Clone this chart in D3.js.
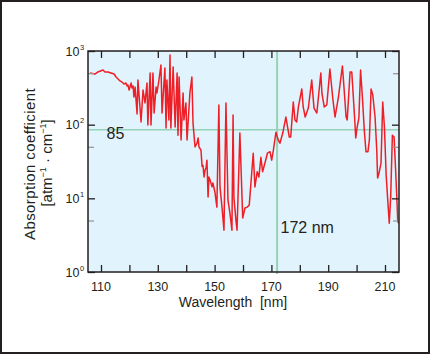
<!DOCTYPE html>
<html><head><meta charset="utf-8">
<script src="https://cdn.jsdelivr.net/npm/d3@7"></script>
<style>
body{margin:0;background:#fff;}
svg{display:block;font-family:"Liberation Sans",Arial,Helvetica,sans-serif;}
</style></head>
<body>
<svg id="c" width="431" height="355"></svg>
<script>
const wavelength = [106.1,107.9,108.9,110.7,111.4,112.5,113.5,114.6,115.3,116.0,116.7,117.4,118.1,118.8,119.2,119.5,119.9,120.6,120.9,121.3,121.6,122.0,122.7,123.0,124.1,124.8,125.5,126.2,126.5,127.3,127.6,128.3,128.7,129.4,129.7,130.4,131.1,131.5,132.5,132.9,133.2,133.9,134.3,134.6,135.4,136.1,136.8,137.1,137.5,138.2,138.9,139.2,139.9,140.3,141.3,142.0,142.4,143.1,143.8,144.2,144.5,145.2,145.6,145.9,146.3,146.6,147.0,147.3,147.7,148.0,148.4,149.1,149.4,150.1,150.8,151.5,151.9,152.6,153.3,154.0,154.7,155.4,156.1,156.5,156.8,157.5,157.9,158.9,159.9,160.7,161.5,162.2,163.6,164.2,165.0,165.6,166.3,166.9,167.7,168.6,169.5,170.1,170.7,171.6,172.4,173.0,174.0,175.1,176.3,176.8,177.7,178.3,178.9,179.5,180.7,181.2,181.9,183.0,184.2,185.0,186.0,187.4,187.8,188.6,189.5,190.6,191.6,192.4,193.6,195.0,195.6,196.3,196.7,197.7,198.3,199.2,199.7,200.2,200.8,201.4,202.1,202.7,203.3,204.0,204.5,205.1,205.7,206.5,207.1,207.4,208.0,208.6,209.2,209.8,210.4,210.9,211.5,212.0,212.6,213.2,213.9,214.5,214.9];
const absorption = [503,487,519,552,519,519,503,487,444,417,392,379,356,368,335,345,295,368,315,335,237,324,140,404,109,295,197,368,99,503,99,503,144,324,269,404,645,144,588,90,404,116,883,90,606,93,503,72,444,62,269,116,197,62,269,444,105,50,56,66,50,45,27,28,19.5,24,26,33,10.4,19.5,17.7,14.3,16.2,12.2,7.6,185,14.3,7.6,3.7,197,9.5,6.3,3.7,135,10.4,5.1,3.7,77,5.4,7.4,7.6,8.1,41,14.3,23,19.5,36,23,30,41,43,33,45,79,62,56,77,127,68,68,203,116,109,174,305,174,127,168,404,168,144,503,265,174,185,570,230,127,237,626,305,127,116,519,519,144,66,93,123,552,216,85,43,43,62,305,253,127,45,18.9,23,30,203,93,21,10.4,4.6,10.4,72,68,17.7,4.8,4.6];
const xTicks = [110,120,130,140,150,160,170,180,190,200,210];
const xTickLabels = [110,130,150,170,190,210];
const yMajor = [1,10,100,1000];
const yExp = ["0","1","2","3"];
const yMinor = [5,50,500];
const refLevel = 85;
const refWavelength = 172;

const svg = d3.select("#c");
const L=88,T=51,R=399,B=272;
const x = d3.scaleLinear().domain([105.42,214.93]).range([L,R]);
const y = d3.scaleLog().domain([1,1000]).range([B,T]);

// outer frame
svg.append("rect").attr("x",1).attr("y",1).attr("width",428).attr("height",352)
  .attr("fill","#fff").attr("stroke","#231f20").attr("stroke-width",2);

// plot background
svg.append("rect").attr("x",L).attr("y",T).attr("width",R-L).attr("height",B-T).attr("fill","#e1f3fc");

svg.append("clipPath").attr("id","pc").append("rect").attr("x",L).attr("y",T).attr("width",R-L).attr("height",B-T);

// reference lines
svg.append("line").attr("x1",L).attr("x2",R).attr("y1",y(refLevel)).attr("y2",y(refLevel))
  .attr("stroke","#95d3b6").attr("stroke-width",1.5);
svg.append("line").attr("x1",x(refWavelength)).attr("x2",x(refWavelength)).attr("y1",T).attr("y2",B+2)
  .attr("stroke","#95d3b6").attr("stroke-width",2);

// curve
const data = wavelength.map((w,i)=>[w,absorption[i]]);
svg.append("path").datum(data).attr("clip-path","url(#pc)")
  .attr("fill","none").attr("stroke","#ee1f27").attr("stroke-width",1.5).attr("stroke-linejoin","round")
  .attr("d",d3.line().x(d=>x(d[0])).y(d=>y(d[1])));

// axes (ticks inward)
const tk = 7;
function style(col){return g=>{g.select(".domain").remove(); g.selectAll("line").attr("stroke",col).attr("stroke-width",1.3);};}
svg.append("g").attr("transform",`translate(0,${B})`)
  .call(d3.axisBottom(x).tickValues(xTicks).tickSizeInner(-tk).tickSizeOuter(0).tickFormat("")).call(style("#231f20"));
svg.append("g").attr("transform",`translate(0,${T})`)
  .call(d3.axisTop(x).tickValues(xTicks).tickSizeInner(-tk).tickSizeOuter(0).tickFormat("")).call(style("#231f20"));
svg.append("g").attr("transform",`translate(${L},0)`)
  .call(d3.axisLeft(y).tickValues(yMajor).tickSizeInner(-tk).tickSizeOuter(0).tickFormat("")).call(style("#231f20"));
svg.append("g").attr("transform",`translate(${R},0)`)
  .call(d3.axisRight(y).tickValues(yMajor).tickSizeInner(-tk).tickSizeOuter(0).tickFormat("")).call(style("#231f20"));
svg.append("g").attr("transform",`translate(${L},0)`)
  .call(d3.axisLeft(y).tickValues(yMinor).tickSizeInner(-6).tickSizeOuter(0).tickFormat("")).call(style("#9a9a9a"));
svg.append("g").attr("transform",`translate(${R},0)`)
  .call(d3.axisRight(y).tickValues(yMinor).tickSizeInner(-6).tickSizeOuter(0).tickFormat("")).call(style("#9a9a9a"));

// frame
svg.append("rect").attr("x",L).attr("y",T).attr("width",R-L).attr("height",B-T)
  .attr("fill","none").attr("stroke","#231f20").attr("stroke-width",1.5);

// x tick labels
svg.append("g").selectAll("text").data(xTickLabels).join("text")
  .attr("x",d=>x(d)).attr("y",291).attr("text-anchor","middle")
  .attr("font-size","12.5px").attr("fill","#231f20").text(d=>d);

// y tick labels
const yl = svg.append("g").selectAll("g").data(yMajor).join("g");
yl.append("text").attr("x",79.5).attr("y",d=>y(d)+4.5).attr("text-anchor","end")
  .attr("font-size","12.5px").attr("fill","#231f20").text("10");
yl.append("text").attr("x",80).attr("y",d=>y(d)-1.5).attr("text-anchor","start")
  .attr("font-size","7.5px").attr("fill","#231f20").text((d,i)=>yExp[i]);

// axis titles
svg.append("text").attr("x",233).attr("y",307).attr("text-anchor","middle")
  .attr("font-size","14px").attr("fill","#231f20").attr("xml:space","preserve").text("Wavelength  [nm]");
svg.append("text").attr("transform","translate(35,164) rotate(-90)").attr("text-anchor","middle")
  .attr("font-size","15px").attr("letter-spacing","0.4px").attr("fill","#231f20")
  .text("Absorption coefficient");
const yt2 = svg.append("text").attr("transform","translate(52,163) rotate(-90)").attr("text-anchor","middle")
  .attr("font-size","15px").attr("fill","#231f20");
yt2.append("tspan").text("[atm");
yt2.append("tspan").attr("font-size","9px").attr("dy",-6).text("−1");
yt2.append("tspan").attr("dy",6).text(" · cm");
yt2.append("tspan").attr("font-size","9px").attr("dy",-6).text("−1");
yt2.append("tspan").attr("dy",6).text("]");

// annotations
svg.append("text").attr("x",106.5).attr("y",139).attr("font-size","16px").attr("fill","#231f20").text(refLevel);
svg.append("text").attr("x",280.5).attr("y",233.3).attr("font-size","16px").attr("fill","#231f20").text(refWavelength+" nm");
</script>
</body></html>
